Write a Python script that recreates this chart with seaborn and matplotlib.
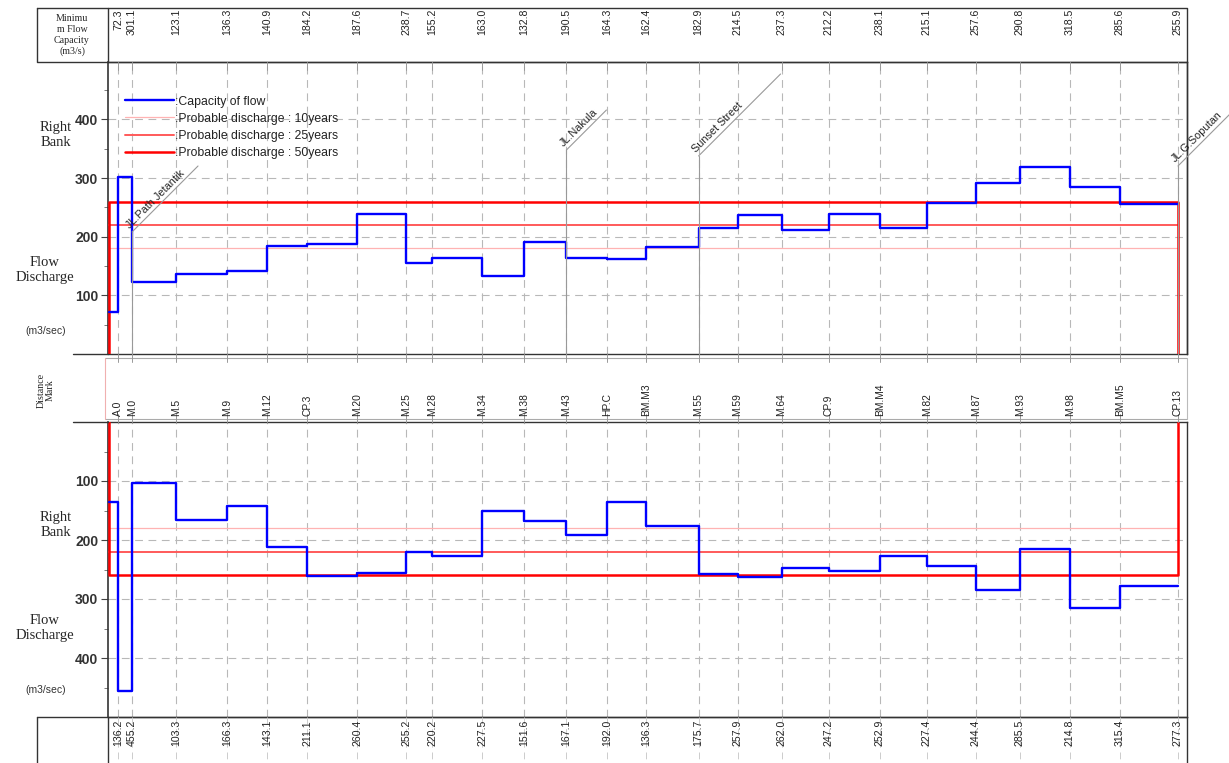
import numpy as np
import pandas as pd
import matplotlib
matplotlib.use("Agg")
import matplotlib.pyplot as plt
import seaborn as sns
from matplotlib.lines import Line2D
from matplotlib.transforms import blended_transform_factory

# ---------------- data ----------------
stations = ["A.0", "M.0", "M.5", "M.9", "M.12", "CP.3", "M.20", "M.25", "M.28", "M.34",
            "M.38", "M.43", "HP.C", "BM.M3", "M.55", "M.59", "M.64", "CP.9", "BM.M4",
            "M.82", "M.87", "M.93", "M.98", "BM.M5", "CP.13"]
distance = [9, 23, 67, 118, 158, 198, 248, 297, 323, 373, 415, 457, 498, 537, 589,
            628, 672, 719, 770, 817, 866, 910, 960, 1010, 1068]
start_distance = 0
capacity_top = [72.3, 301.1, 123.1, 136.3, 140.9, 184.2, 187.6, 238.7, 155.2, 163.0,
                132.8, 190.5, 164.3, 162.4, 182.9, 214.5, 237.3, 212.2, 238.1, 215.1,
                257.6, 290.8, 318.5, 285.6, 255.9]
capacity_bottom = [136.2, 455.2, 103.3, 166.3, 143.1, 211.1, 260.4, 255.2, 220.2, 227.5,
                   151.6, 167.1, 192.0, 136.3, 175.7, 257.9, 262.0, 247.2, 252.9, 227.4,
                   244.4, 285.5, 214.8, 315.4, 277.3]
q10, q25, q50 = 180, 220, 260
roads = ["JL.Path Jetantik", "JL.Nakula", "Sunset Street", "JL.G.Soputan"]
road_stations = ["M.0", "M.43", "M.55", "CP.13"]
legend_labels = [":Capacity of flow", ":Probable discharge : 10years",
                 ":Probable discharge : 25years", ":Probable discharge : 50years"]

# ---------------- style ----------------
sns.set_theme(style="white")
plt.rcParams["font.family"] = ["Liberation Sans", "DejaVu Sans"]
SERIF = ["Liberation Serif", "DejaVu Serif"]

W, H = 1229, 763
fig = plt.figure(figsize=(W / 100, H / 100), dpi=100)
fig.patch.set_facecolor("white")


def px_axes(x0, y0, x1, y1):
    return fig.add_axes([x0 / W, 1 - y1 / H, (x1 - x0) / W, (y1 - y0) / H])


XL, XR = 108, 1187
ax_top = px_axes(XL, 62, XR, 354)
ax_bot = px_axes(XL, 422, XR, 717)
ov = fig.add_axes([0, 0, 1, 1])
ov.set_xlim(0, W)
ov.set_ylim(H, 0)
ov.axis("off")
ov.patch.set_alpha(0)

BLUE = "#0000ff"
C10, C25, C50 = "#ffb3b3", "#ff5a5a", "#ff0000"
end_distance = distance[-1]


def draw_panel(ax, caps, invert):
    df = pd.DataFrame({"x": [start_distance] + distance, "y": [caps[0]] + caps})
    sns.lineplot(data=df, x="x", y="y", drawstyle="steps-pre", color=BLUE, lw=1.7,
                 estimator=None, sort=False, ax=ax, zorder=5)
    sns.lineplot(x=[start_distance, end_distance], y=[q10, q10], color=C10, lw=0.9,
                 estimator=None, sort=False, ax=ax, zorder=3)
    sns.lineplot(x=[start_distance, end_distance], y=[q25, q25], color=C25, lw=1.4,
                 estimator=None, sort=False, ax=ax, zorder=3)
    sns.lineplot(x=[start_distance, start_distance, end_distance, end_distance],
                 y=[0, q50, q50, 0], color=C50, lw=1.8,
                 estimator=None, sort=False, ax=ax, zorder=4)
    ax.set_xlim(-1, 1077)
    if invert:
        ax.set_ylim(500, 0)
    else:
        ax.set_ylim(0, 498)
    ax.set_facecolor("none")
    ax.set_xlabel("")
    ax.set_ylabel("")
    ax.set_xticks(distance)
    ax.set_xticklabels([])
    ax.tick_params(axis="x", length=0)
    ax.set_yticks([100, 200, 300, 400])
    ax.set_yticks([50, 150, 250, 350, 450], minor=True)
    ax.tick_params(axis="y", which="major", direction="out", length=5, width=0.8,
                   color="#444444", left=True, labelsize=10, pad=2)
    ax.tick_params(axis="y", which="minor", direction="out", length=3, width=0.6,
                   color="#666666", left=True)
    for lab in ax.get_yticklabels():
        lab.set_fontweight("bold")
        lab.set_color("#333333")
    ax.grid(True, which="major", axis="both", color="#b8b8b8", lw=0.8,
            linestyle=(0, (7, 5)))
    for s in ax.spines.values():
        s.set_color("#333333")
        s.set_linewidth(1.0)
    ax.spines["left"].set_linewidth(1.2)
    if ax.get_legend() is not None:
        ax.get_legend().remove()


draw_panel(ax_top, capacity_top, False)
draw_panel(ax_bot, capacity_bottom, True)

# legend
handles = [Line2D([], [], color=BLUE, lw=1.7), Line2D([], [], color=C10, lw=0.9),
           Line2D([], [], color=C25, lw=1.4), Line2D([], [], color=C50, lw=1.8)]
leg = ax_top.legend(handles, legend_labels, loc="upper left",
                    bbox_to_anchor=(0.016, 0.885), frameon=False, borderpad=0,
                    borderaxespad=0, handlelength=4.0, handletextpad=0.1,
                    labelspacing=0.42, fontsize=8.8)
for t in leg.get_texts():
    t.set_color("#222222")

# ---------------- frame / tables (pixel overlay) ----------------
bx = blended_transform_factory(ax_top.transData, ov.transData)
line_kw = dict(color="#333333", lw=1.0)
# header box
ov.plot([37, XR, XR, 37, 37], [8, 8, 62, 62, 8], **line_kw)
ov.plot([XL, XL], [8, 62], **line_kw)
ov.plot([XR, XR], [62, 354], **line_kw)
# extensions of panel frames to the left
ov.plot([73, XL], [354, 354], **line_kw)
ov.plot([73, XL], [422, 422], **line_kw)
# distance mark band
ov.plot([105, XR], [358, 358], color="#aaaaaa", lw=0.8)
ov.plot([105, XR], [419, 419], color="#aaaaaa", lw=0.8)
ov.plot([105, 105], [358, 419], color="#f0b0b0", lw=0.8)
ov.plot([XR, XR], [358, 419], color="#bbbbbb", lw=0.8)
# bottom table
ov.plot([37, XR], [717, 717], **line_kw)
ov.plot([37, 37], [717, 763], **line_kw)
ov.plot([XL, XL], [717, 763], **line_kw)
ov.plot([XR, XR], [717, 763], **line_kw)

# station ticks in bands
for d in distance:
    ov.plot([d, d], [62, 70], transform=bx, color="#999999", lw=0.7)
    ov.plot([d, d], [354, 362], transform=bx, color="#999999", lw=0.7)
    ov.plot([d, d], [414, 422], transform=bx, color="#999999", lw=0.7)
    ov.plot([d, d], [717, 763], transform=bx, color="#cccccc", lw=0.7,
            linestyle=(0, (7, 5)))

# header values
for d, v in zip(distance, capacity_top):
    ov.text(d, 9, f"{v:.1f}", transform=bx, rotation=90, ha="center", va="top",
            fontsize=7.6, color="#222222")
# station names
for d, s in zip(distance, stations):
    ov.text(d, 416, s, transform=bx, rotation=90, ha="center", va="bottom",
            fontsize=7.4, color="#222222")
# bottom values
for d, v in zip(distance, capacity_bottom):
    ov.text(d, 720, f"{v:.1f}", transform=bx, rotation=90, ha="center", va="top",
            fontsize=7.6, color="#222222")

ov.text(72, 35, "Minimu\nm Flow\nCapacity\n(m3/s)", ha="center", va="center",
        fontsize=7.2, family=SERIF, linespacing=1.25)
ov.text(46, 390, "Distance\nMark", rotation=90, ha="center", va="center",
        fontsize=7.2, family=SERIF, linespacing=1.0)

# left side labels
for yb, yf, ym in [(135, 270, 331), (525, 628, 690)]:
    ov.text(56, yb, "Right\nBank", ha="center", va="center", fontsize=10.5,
            family=SERIF, linespacing=1.15)
    ov.text(45, yf, "Flow\nDischarge", ha="center", va="center", fontsize=10.5,
            family=SERIF, linespacing=1.15)
    ov.text(46, ym, "(m3/sec)", ha="center", va="center", fontsize=7.5,
            color="#333333")

# road annotations
inv = ov.transData.inverted()
road_geom = {"JL.Path Jetantik": (232, 66), "JL.Nakula": (150, 40),
             "Sunset Street": (156, 82), "JL.G.Soputan": (166, 52)}
for name, st in zip(roads, road_stations):
    d = distance[stations.index(st)]
    px = inv.transform(ax_top.transData.transform((d, 0)))[0]
    ys, L = road_geom[name]
    ov.plot([px, px], [ys, 354], color="#999999", lw=0.8)
    ov.plot([px, px + L], [ys, ys - L], color="#999999", lw=0.8)
    ov.text(px - 1, ys - 2, name, rotation=45, rotation_mode="anchor",
            ha="left", va="bottom", fontsize=7.8, color="#222222")

fig.savefig("out.png", dpi=100)
